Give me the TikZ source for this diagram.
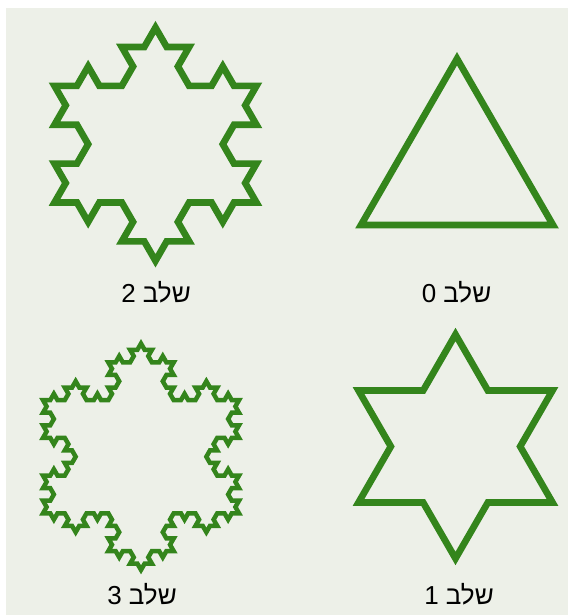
\documentclass[tikz,border=0pt]{standalone}
\usepackage{fontspec}
\setmainfont{Liberation Sans}
\newfontfamily\hebfont[Script=Hebrew]{Liberation Sans}
\TeXXeTstate=1
\usepackage{xcolor}
\usetikzlibrary{lindenmayersystems}

\definecolor{kochgreen}{RGB}{52,133,28}
\definecolor{paper}{RGB}{237,240,232}

\pgfdeclarelindenmayersystem{koch}{\rule{F -> F-F++F-F}}

\begin{document}
\begin{tikzpicture}[x=1pt, y=1pt,
  flake/.style={draw=kochgreen, line width=6.7pt, line join=miter},
  stagelabel/.style={font=\hebfont\fontsize{26}{30}\selectfont, text=black, inner sep=0pt},
]
\useasboundingbox (0,0) rectangle (568,615);
\fill[paper] (6,0) rectangle (568,607);

% stage 0, top right
\begin{scope}[shift={(361,390)}]
  \draw[flake, l-system={koch, axiom=F++F++F, order=0, step=192pt, angle=60}] (0,0) lindenmayer system -- cycle;
\end{scope}
% stage 1, bottom right
\begin{scope}[shift={(358.5,112.5)}]
  \draw[flake, l-system={koch, axiom=F++F++F, order=1, step=64.67pt, angle=60}] (0,0) lindenmayer system -- cycle;
\end{scope}
% stage 2, top left
\begin{scope}[shift={(54.5,412.5)}]
  \draw[flake, l-system={koch, axiom=F++F++F, order=2, step=22.44pt, angle=60}] (0,0) lindenmayer system -- cycle;
\end{scope}
% stage 3, bottom left
\begin{scope}[shift={(43,101.7)}]
  \draw[flake, line width=4.5pt, l-system={koch, axiom=F++F++F, order=3, step=7.26pt, angle=60}] (0,0) lindenmayer system -- cycle;
\end{scope}

\node[stagelabel] (lab0) at (456.5,322.5) {\beginR שלב 0\endR};
\node[stagelabel] (lab2) at (156,322.5) {\beginR שלב 2\endR};
\node[stagelabel] (lab1) at (459,20.5) {\beginR שלב 1\endR};
\node[stagelabel] (lab3) at (142,20.5) {\beginR שלב 3\endR};

\end{tikzpicture}
\end{document}
